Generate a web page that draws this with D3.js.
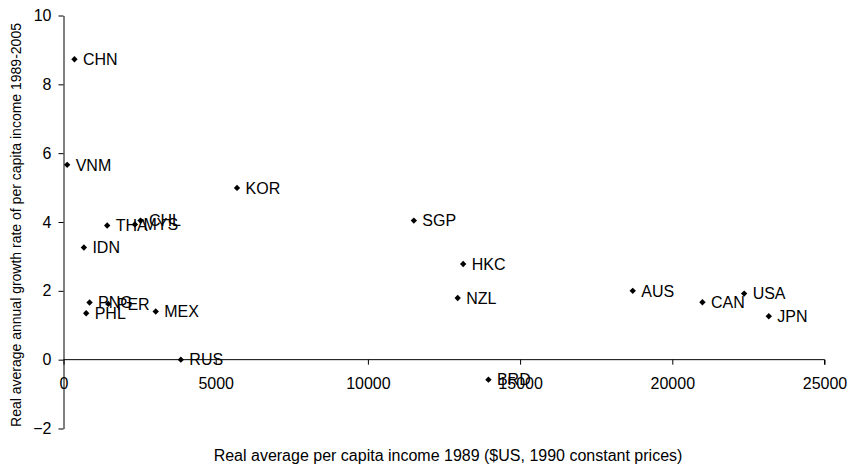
<!DOCTYPE html>
<html>
<head>
<meta charset="utf-8">
<script src="https://cdn.jsdelivr.net/npm/d3@7"></script>
<style>
  body { margin: 0; background: #fff; }
  text { font-family: "Liberation Sans", Arial, sans-serif; fill: #000; }
</style>
</head>
<body>
<svg width="848" height="469"></svg>
<script>
// country codes
let countries = ["CHN", "VNM", "KOR", "THA", "MYS", "CHL", "IDN", "PNG", "PER", "PHL",
                 "MEX", "RUS", "SGP", "HKC", "NZL", "AUS", "CAN", "USA", "JPN", "BRD"];
// real average per capita income 1989
let income = [360, 120, 5700, 1435, 2345, 2530, 670, 855, 1470, 745,
              3030, 3855, 11510, 13130, 12950, 18700, 20990, 22360, 23170, 13960];
// annual growth rate 1989-2005
let growth = [8.73, 5.66, 4.99, 3.90, 3.93, 4.04, 3.26, 1.66, 1.62, 1.35,
              1.40, 0.0, 4.04, 2.78, 1.79, 2.0, 1.67, 1.92, 1.26, -0.58];
let xTicks = [0, 5000, 10000, 15000, 20000, 25000];
let yTicks = [-2, 0, 2, 4, 6, 8, 10];

let svg = d3.select("svg");
let x = d3.scaleLinear().domain([0, 25000]).range([63.5, 824.5]);
let y = d3.scaleLinear().domain([-2, 10]).range([428.5, 15.5]);

// y axis
let yAxis = svg.append("g")
  .attr("transform", "translate(" + x(0) + ",0)")
  .call(d3.axisLeft(y).tickValues(yTicks).tickSize(5).tickSizeOuter(0));
yAxis.selectAll("text").style("font-size", "16px").attr("x", -12);

// x axis, crossing at y = 0, labels sit lower
let xAxis = svg.append("g")
  .attr("transform", "translate(0," + y(0) + ")")
  .call(d3.axisBottom(x).tickValues(xTicks).tickFormat(d3.format("d")).tickSize(5).tickSizeOuter(0));
xAxis.selectAll("text").style("font-size", "16px").attr("y", 18);
xAxis.select(".domain").attr("d", "M" + x(0) + ",0H" + x(25000) + "V5");

svg.selectAll(".domain, .tick line").attr("stroke", "#000").attr("stroke-width", 1);

// points
let data = countries.map((c, i) => ({ name: c, x: income[i], y: growth[i] }));
let pts = svg.selectAll(".pt").data(data).enter().append("g")
  .attr("class", "pt")
  .attr("transform", d => "translate(" + x(d.x) + "," + y(d.y) + ")");
pts.append("path")
  .attr("d", d3.symbol(d3.symbolDiamond2, 26))
  .attr("fill", "#000");
pts.append("text")
  .attr("x", 8.5)
  .attr("dy", "0.36em")
  .style("font-size", "16px")
  .text(d => d.name);

// axis titles
svg.append("text")
  .attr("x", 448)
  .attr("y", 461)
  .attr("text-anchor", "middle")
  .style("font-size", "16px")
  .text("Real average per capita income 1989 ($US, 1990 constant prices)");
svg.append("text")
  .attr("transform", "translate(21,225) rotate(-90)")
  .attr("text-anchor", "middle")
  .style("font-size", "14px")
  .text("Real average annual growth rate of per capita income 1989-2005");
</script>
</body>
</html>
